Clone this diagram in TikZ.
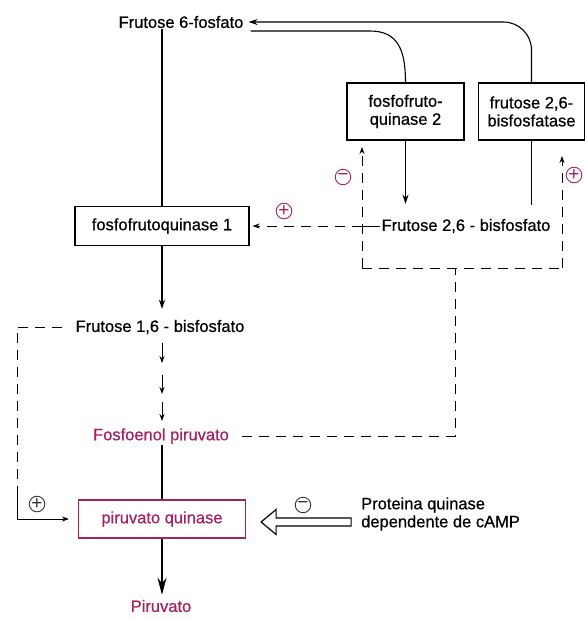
\documentclass[tikz,border=0pt]{standalone}
\usepackage{fontspec}
\setmainfont{Liberation Sans}
\newfontfamily\scanfont{Liberation Sans}[FakeBold=0.6]
\usetikzlibrary{arrows.meta,calc}
\definecolor{mag}{RGB}{168,32,96}
\begin{document}
\begin{tikzpicture}[x=1pt,y=-1pt,
 lbl/.style={font=\scanfont\fontsize{16.5}{18}\selectfont, inner sep=1pt},
 enz/.style={draw, line width=1.2pt, font=\scanfont\fontsize{16.5}{18}\selectfont, align=center, inner sep=0pt},
 flow/.style={line width=1.1pt},
 arr/.style={-{Stealth[length=9pt,width=6pt]}},
 sarr/.style={-{Stealth[length=7pt,width=5pt]}},
 dsh/.style={line width=0.9pt, dash pattern=on 10pt off 7pt},
 sgn/.style={circle, draw=#1, text=#1, line width=0.9pt, inner sep=0pt, minimum size=15.5pt, font=\fontsize{19}{19}\selectfont},
]
\useasboundingbox (0,0) rectangle (585,619);

% nodes
\node[lbl] (f6p) at (181,22) {Frutose 6-fosfato};
\node[enz, minimum width=174pt, minimum height=39pt] (pfk1) at (162,226) {fosfofrutoquinase 1};
\node[lbl] (f16) at (160,327) {Frutose 1,6 - bisfosfato};
\node[lbl, text=mag] (pep) at (161,436) {Fosfoenol piruvato};
\node[enz, draw=mag, text=mag, minimum width=167pt, minimum height=38pt] (pk) at (162,519) {piruvato quinase};
\node[lbl, text=mag] (pir) at (161,606) {Piruvato};
\node[lbl, align=left, anchor=west] (pka) at (360,514) {Proteina quinase\\dependente de cAMP};
\node[enz, minimum width=117pt, minimum height=57pt] (pfk2) at (405.5,111.5) {fosfofruto-\\quinase 2};
\node[enz, minimum width=106pt, minimum height=57pt] (fbp) at (531.5,111.5) {frutose 2,6-\\bisfosfatase};
\node[lbl] (f26) at (466,226) {Frutose 2,6 - bisfosfato};

% signs
\node[sgn=mag] (s1) at (284,211) {+};
\node[sgn=mag] (s2) at (343,177) {−};
\node[sgn=mag] (s3) at (574,175) {+};
\node[sgn=black!80] (s4) at (303,505) {−};
\node[sgn=black!80] (s5) at (37,504) {+};

% helper coordinates
\coordinate (lc) at (17,495);
\coordinate (jb) at (455,268);
\coordinate (bl) at (362,268);
\coordinate (br) at (562,268);

% main pathway
\draw[flow] (f6p.south -| pfk1.north) -- (pfk1.north);
\draw[flow,arr,shorten >=10pt] (pfk1.south) -- (f16.north -| pfk1.south);
\foreach \a/\b in {343/363,375/394,402/421}
  \draw[line width=1pt,sarr] (pk.north |- 0,\a) -- (pk.north |- 0,\b);
\draw[flow] (pep.south -| pk.north) -- (pk.north);
\draw[flow,-{Stealth[length=17pt,width=9pt]},shorten >=4pt] (pk.south) -- (pir.north -| pk.south);

% top loop
\draw[flow,arr,rounded corners=28pt] (fbp.north) |- ($(f6p.east)+(4,0)$);
\draw[flow] ($(f6p.east)+(6,9)$) -- (370,31) .. controls (398,31) and (405.5,50) .. (pfk2.north);
\draw[flow,arr,shorten >=14pt] (pfk2.south) -- (pfk2.south |- f26.north);
\draw[flow,shorten >=13pt] (fbp.south) -- (fbp.south |- f26.north);

% regulation by F2,6BP
\draw[line width=0.9pt] (bl |- f26.west) -- (f26.west);
\draw[dsh] (bl) -- (br);
\draw[dsh,sarr] (bl) -- (bl |- 0,147);
\draw[dsh,sarr] (br) -- (br |- 0,156);
\draw[dsh,sarr,shorten >=3pt] (bl |- pfk1.east) -- (pfk1.east);
\draw[dsh] ($(pep.east)+(12,0)$) -| (jb);

% feed-forward F1,6BP -> PK
\draw[dsh] ($(f16.west)+(-12,0)$) -| (lc);
\draw[line width=0.9pt,sarr,shorten >=9pt] (lc) |- (pk.west);

% PKA inhibition
\draw[line width=1.2pt, fill=white] ($(pk.east)+(15,3)$) -- ++(15,-12.5) -- ++(0,8.5) -- ++(75,0) -- ++(0,8) -- ++(-75,0) -- ++(0,8.5) -- cycle;
\end{tikzpicture}
\end{document}
